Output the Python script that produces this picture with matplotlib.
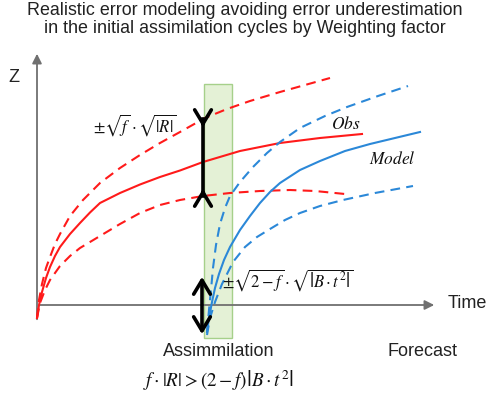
import matplotlib
matplotlib.use("Agg")
import matplotlib.pyplot as plt
from matplotlib.patches import Rectangle

plt.rcParams['mathtext.fontset'] = 'stix'
plt.rcParams['lines.scale_dashes'] = False

# Schematic curves (pixel-space reading of the reference)
obs_x = [37, 39, 42, 46, 50, 55, 60, 70, 80, 90, 100, 120, 140, 160, 180, 203, 240, 280, 320, 362]
obs_y = [318, 305, 292, 278, 267, 256, 247, 234, 223, 212.5, 203, 193, 184.5, 177, 170.5, 162, 151, 143, 138, 134]
obs_up_x = [37, 39, 42, 46, 50, 55, 60, 70, 83, 100, 120, 140, 160, 180, 205, 227, 250, 280, 305, 330]
obs_up_y = [318, 300, 284, 268, 257, 244, 234, 216, 200, 183, 168, 155, 143, 132, 118, 109, 101, 92, 85, 78]
obs_lo_x = [37, 40, 45, 50, 60, 70, 80, 100, 120, 140, 160, 180, 203, 230, 260, 290, 315, 345]
obs_lo_y = [318, 303, 290, 280, 266, 256, 248, 236, 224, 213, 205, 200, 196, 193, 191, 190, 191, 194]

mod_x = [207, 209, 212, 215, 219, 224, 230, 240, 250, 260, 270, 280, 300, 320, 345, 370, 395, 420]
mod_y = [332, 318, 302, 288, 274, 260, 247, 230, 216, 203, 192, 183, 170, 161, 151, 144, 138, 132]
mod_up_x = [207, 209, 211, 213, 216, 220, 225, 230, 240, 253, 267, 280, 300, 325, 347, 378, 408]
mod_up_y = [332, 310, 290, 268, 245, 224, 208, 196, 182, 167, 153, 142, 128, 116, 107, 96, 86]
mod_lo_x = [207, 210, 215, 222, 233, 245, 257, 270, 285, 300, 320, 343, 375, 413]
mod_lo_y = [335, 318, 302, 284, 262, 247, 237, 229, 220, 213, 206, 200, 193, 186]

RED = '#ff1a1a'
BLUE = '#2b88d8'

fig = plt.figure(figsize=(4.9, 3.98), dpi=100)
ax = fig.add_axes([0, 0, 1, 1])
ax.set_xlim(0, 490)
ax.set_ylim(398, 0)
ax.axis('off')

# assimilation window
ax.add_patch(Rectangle((204, 84), 28, 254, facecolor='#e4f1d6', edgecolor='#a6d08a', lw=1.0, zorder=1))

# axes
ax.annotate('', xy=(37, 51), xytext=(37, 322),
            arrowprops=dict(arrowstyle='-|>', color='#707070', lw=1.3, mutation_scale=14), zorder=2)
ax.annotate('', xy=(437, 305), xytext=(37, 305),
            arrowprops=dict(arrowstyle='-|>', color='#707070', lw=1.3, mutation_scale=14), zorder=2)

ds = (7, 4.5)
ax.plot(obs_x, obs_y, color=RED, lw=1.5, zorder=3, solid_joinstyle='round')
ax.plot(obs_up_x, obs_up_y, color=RED, lw=1.5, dashes=ds, zorder=3)
ax.plot(obs_lo_x, obs_lo_y, color=RED, lw=1.5, dashes=ds, zorder=3)
ax.plot(mod_x, mod_y, color=BLUE, lw=1.5, zorder=3, solid_joinstyle='round')
ax.plot(mod_up_x, mod_up_y, color=BLUE, lw=1.5, dashes=ds, zorder=3)
ax.plot(mod_lo_x, mod_lo_y, color=BLUE, lw=1.5, dashes=ds, zorder=3)

# inward arrow (observation error)
head = '->,head_length=0.5,head_width=0.3'
ax.plot([203, 203], [119, 196], color='black', lw=2.6, zorder=5)
ax.annotate('', xy=(203, 130), xytext=(203, 118),
            arrowprops=dict(arrowstyle=head, color='black', lw=2.6, mutation_scale=20), zorder=5)
ax.annotate('', xy=(203, 186), xytext=(203, 198),
            arrowprops=dict(arrowstyle=head, color='black', lw=2.6, mutation_scale=20), zorder=5)
# outward arrow (model error)
ax.annotate('', xy=(202, 274), xytext=(202, 337),
            arrowprops=dict(arrowstyle='<->,head_length=0.5,head_width=0.3', color='black', lw=2.6,
                            mutation_scale=20), zorder=5)

# texts
ax.text(245, 2, 'Realistic error modeling avoiding error underestimation\nin the initial assimilation cycles by Weighting factor',
        ha='center', va='top', fontsize=12.9, family='Liberation Sans', color='#222222', linespacing=1.1)
ax.text(14, 77, 'Z', ha='center', va='center', fontsize=13, family='Liberation Sans', color='#222222')
ax.text(448, 303, 'Time', ha='left', va='center', fontsize=13, family='Liberation Sans', color='#222222')
ax.text(219, 352, 'Assimmilation', ha='center', va='center', fontsize=13, family='Liberation Sans', color='#222222')
ax.text(422, 352, 'Forecast', ha='center', va='center', fontsize=13, family='Liberation Sans', color='#222222')

ax.text(93, 125, r'$\pm\sqrt{f}\cdot\sqrt{\left|R\right|}$', ha='left', va='center', fontsize=12, color='#111111')
ax.text(222, 280, r'$\pm\sqrt{2-f}\cdot\sqrt{\left|B\cdot t^{2}\right|}$', ha='left', va='center', fontsize=12, color='#111111')
ax.text(143, 381, r'$f\cdot\left|R\right|>\left(2-f\right)\left|B\cdot t^{2}\right|$', ha='left', va='center', fontsize=13.8, color='#111111')
ax.text(346, 124, r'$\mathit{Obs}$', ha='center', va='center', fontsize=12.5, color='#111111')
ax.text(392, 159, r'$\mathit{Model}$', ha='center', va='center', fontsize=12.5, color='#111111')

fig.savefig('out.png', dpi=100)
